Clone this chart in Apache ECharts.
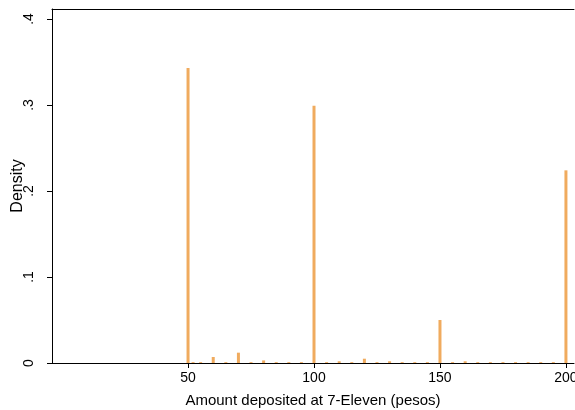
<!DOCTYPE html>
<html>
<head>
<meta charset="utf-8">
<script src="https://cdn.jsdelivr.net/npm/echarts@6/dist/echarts.min.js"></script>
<style>html,body{margin:0;padding:0;background:#fff}#c{width:575px;height:410px}</style>
</head>
<body>
<div id="c"></div>
<script>
// Deposit amounts (pesos) and histogram densities
const amounts = [50, 52, 55, 60, 65, 70, 75, 80, 85, 90, 95, 100, 105, 110, 115, 120, 125, 130, 135, 140, 145, 150, 155, 160, 165, 170, 175, 180, 185, 190, 195, 200];
const densities = [0.343, 0.001, 0.001, 0.007, 0.001, 0.012, 0.001, 0.003, 0.001, 0.001, 0.001, 0.299, 0.001, 0.002, 0.001, 0.005, 0.001, 0.002, 0.001, 0.001, 0.001, 0.050, 0.001, 0.002, 0.001, 0.001, 0.001, 0.001, 0.001, 0.001, 0.001, 0.224];
const xTicks = [50, 100, 150, 200];
const yTicks = [0, 0.1, 0.2, 0.3, 0.4];

const chart = echarts.init(document.getElementById('c'), null, {renderer: 'canvas'});
const font = 'Liberation Sans, Arial, Helvetica, sans-serif';
const fmtY = v => v === 0 ? '0' : String(v).replace(/^0/, '');
chart.setOption({
  animation: false,
  grid: {left: 52, right: 1, top: 9, bottom: 47, outerBoundsMode: 'none', containLabel: false},
  xAxis: [{
    type: 'value', min: -4, max: 203.2,
    name: 'Amount deposited at 7-Eleven (pesos)',
    nameLocation: 'middle', nameGap: 30, nameMoveOverlap: false,
    nameTextStyle: {fontFamily: font, fontSize: 15, color: '#000'},
    axisLine: {show: true, onZero: false, lineStyle: {color: '#000', width: 1}},
    axisTick: {show: true, length: 5, customValues: xTicks, lineStyle: {color: '#000'}},
    axisLabel: {customValues: xTicks, fontFamily: font, fontSize: 14, color: '#000', margin: 8},
    splitLine: {show: false}
  }, {
    type: 'value', position: 'top', min: -4, max: 203.2,
    axisLine: {show: true, onZero: false, lineStyle: {color: '#000', width: 1}},
    axisTick: {show: false}, axisLabel: {show: false}, splitLine: {show: false}
  }],
  yAxis: {
    type: 'value', min: 0, max: 0.4116,
    name: 'Density', nameLocation: 'middle', nameGap: 26, nameRotate: 90, nameMoveOverlap: false,
    nameTextStyle: {fontFamily: font, fontSize: 16, color: '#000'},
    axisLine: {show: true, onZero: false, lineStyle: {color: '#000', width: 1}},
    axisTick: {show: true, length: 5, customValues: yTicks, lineStyle: {color: '#000'}},
    axisLabel: {customValues: yTicks, rotate: 90, formatter: fmtY, fontFamily: font, fontSize: 14, color: '#000', margin: 16},
    splitLine: {show: false}
  },
  series: [{
    type: 'bar', xAxisIndex: 0,
    data: amounts.map((a, i) => [a, densities[i]]),
    barWidth: 3,
    itemStyle: {color: '#F0AB5E'}
  }]
});
</script>
</body>
</html>
